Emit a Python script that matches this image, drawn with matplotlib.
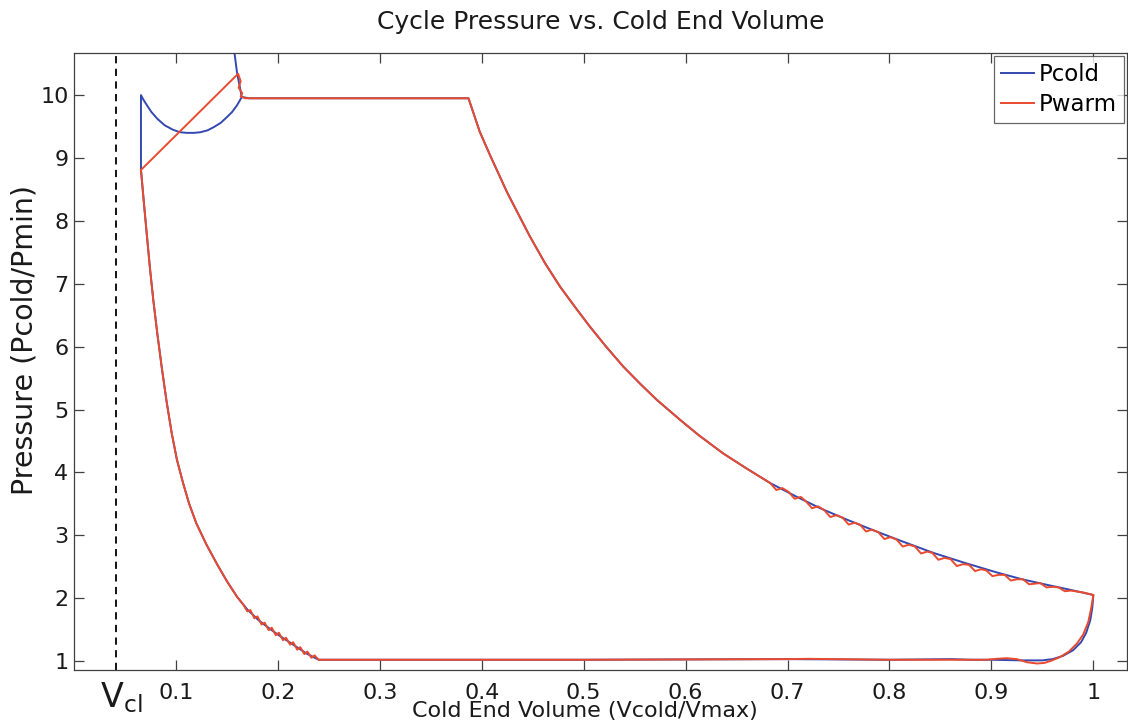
import numpy as np
import matplotlib
matplotlib.use("Agg")
import matplotlib.pyplot as plt

plt.rcParams['font.family'] = ['DejaVu Sans']
plt.rcParams['mathtext.fontset'] = 'dejavusans'

# ---- data: cold end volume (V/Vmax) and pressure (P/Pmin) ----
v_clearance = 0.041

# Pcold spike at the end of the displacement
pcold_spike_v = [0.156, 0.160, 0.1646]
pcold_spike_p = [10.85, 10.35, 9.97]

# constant-pressure intake plateau
plateau_v = [0.1646, 0.172, 0.387]
plateau_p = [9.97, 9.95, 9.95]

# expansion stroke
expansion_v = [0.387, 0.398, 0.408, 0.425, 0.447, 0.462, 0.477, 0.492, 0.506,
               0.522, 0.539, 0.556, 0.572, 0.595, 0.613, 0.637, 0.660, 0.683,
               0.708, 0.732, 0.758, 0.784, 0.813, 0.843, 0.874, 0.905, 0.930,
               0.955, 0.978, 1.0]
expansion_p = [9.95, 9.42, 9.05, 8.45, 7.76, 7.33, 6.95, 6.62, 6.32,
               6.00, 5.68, 5.40, 5.15, 4.83, 4.59, 4.30, 4.06, 3.83,
               3.62, 3.43, 3.25, 3.08, 2.90, 2.72, 2.56, 2.41, 2.30,
               2.21, 2.13, 2.05]

# blowdown at maximum volume (Pcold)
pcold_right_v = [1.0, 0.999, 0.997, 0.993, 0.988, 0.980, 0.970, 0.960, 0.950]
pcold_right_p = [2.05, 1.85, 1.65, 1.45, 1.30, 1.17, 1.08, 1.03, 1.01]

# low-pressure exhaust line (Pcold)
pcold_bottom_v = [0.950, 0.930, 0.900, 0.880, 0.860, 0.800, 0.700, 0.500, 0.300, 0.240]
pcold_bottom_p = [1.01, 1.01, 1.02, 1.02, 1.03, 1.02, 1.03, 1.02, 1.02, 1.02]

# compression stroke
compression_v = [0.240, 0.228, 0.215, 0.200, 0.189, 0.181, 0.170, 0.160, 0.150,
                 0.140, 0.130, 0.120, 0.113, 0.107, 0.101, 0.0959, 0.0908,
                 0.086, 0.0818, 0.0778, 0.0745, 0.0713, 0.0685, 0.0657]
compression_p = [1.02, 1.12, 1.26, 1.42, 1.55, 1.65, 1.82, 2.02, 2.27,
                 2.55, 2.85, 3.19, 3.50, 3.83, 4.20, 4.62, 5.13,
                 5.68, 6.20, 6.74, 7.25, 7.80, 8.30, 8.81]

# Pcold jump and arc near minimum volume
pcold_arc_v = [0.0657, 0.0657, 0.0680, 0.0715, 0.0760, 0.0820, 0.0890, 0.0970,
               0.1040, 0.1106, 0.1180, 0.1240, 0.1310, 0.1370, 0.1440, 0.1500,
               0.1550, 0.1600, 0.1646]
pcold_arc_p = [8.81, 10.0, 9.93, 9.84, 9.73, 9.62, 9.52, 9.45,
               9.41, 9.40, 9.40, 9.41, 9.44, 9.49, 9.56, 9.65,
               9.73, 9.84, 9.97]

# Pwarm: straight rise near minimum volume, settling onto the plateau
pwarm_top_v = [0.0657, 0.161, 0.1635, 0.1615, 0.1650, 0.1635, 0.1680]
pwarm_top_p = [8.81, 10.34, 10.22, 10.12, 10.03, 9.98, 9.95]

# Pwarm ripple along the late expansion
pwarm_ripple_v = [0.683, 0.689, 0.695, 0.701, 0.707, 0.713, 0.718, 0.724, 0.730,
                  0.736, 0.742, 0.748, 0.754, 0.760, 0.766, 0.771, 0.777, 0.783,
                  0.789, 0.795, 0.801, 0.807, 0.813, 0.819, 0.825, 0.831, 0.837,
                  0.842, 0.848, 0.854, 0.860, 0.866, 0.872, 0.878, 0.884, 0.890,
                  0.895, 0.901, 0.907, 0.913, 0.919, 0.925, 0.931, 0.937, 0.943,
                  0.948, 0.954, 0.960, 0.966, 0.972, 0.978, 0.990, 1.0]
pwarm_ripple_p = [3.83, 3.72, 3.75, 3.69, 3.58, 3.61, 3.54, 3.43, 3.46,
                  3.40, 3.29, 3.32, 3.28, 3.17, 3.20, 3.17, 3.06, 3.09,
                  3.05, 2.94, 2.97, 2.93, 2.82, 2.85, 2.82, 2.71, 2.74,
                  2.72, 2.61, 2.64, 2.62, 2.51, 2.54, 2.53, 2.43, 2.46,
                  2.44, 2.35, 2.37, 2.37, 2.28, 2.30, 2.30, 2.22, 2.23,
                  2.24, 2.17, 2.18, 2.17, 2.11, 2.12, 2.09, 2.05]

# Pwarm blowdown and exhaust line
pwarm_right_v = [1.0, 0.998, 0.995, 0.990, 0.984, 0.976, 0.967, 0.958, 0.952,
                 0.945, 0.935, 0.925, 0.915, 0.905, 0.895]
pwarm_right_p = [2.05, 1.85, 1.62, 1.42, 1.28, 1.15, 1.06, 1.00, 0.97,
                 0.96, 0.98, 1.03, 1.045, 1.035, 1.02]
pwarm_bottom_v = [0.895, 0.800, 0.720, 0.700, 0.500, 0.300, 0.240]
pwarm_bottom_p = [1.02, 1.02, 1.035, 1.03, 1.02, 1.02, 1.02]

# Pwarm sawtooth at the end of compression
pwarm_teeth_v = [0.240, 0.236, 0.233, 0.229, 0.226, 0.222, 0.219, 0.215, 0.212,
                 0.208, 0.205, 0.201, 0.198, 0.194, 0.191, 0.187, 0.184, 0.180,
                 0.177, 0.173, 0.170, 0.166]
pwarm_teeth_p = [1.02, 1.09, 1.05, 1.15, 1.11, 1.22, 1.18, 1.30, 1.26,
                 1.37, 1.33, 1.45, 1.41, 1.53, 1.49, 1.61, 1.58, 1.71,
                 1.68, 1.81, 1.79, 1.90]

x_ticks = [0.1, 0.2, 0.3, 0.4, 0.5, 0.6, 0.7, 0.8, 0.9, 1.0]
x_tick_labels = ['0.1', '0.2', '0.3', '0.4', '0.5', '0.6', '0.7', '0.8', '0.9', '1']
y_ticks = [1, 2, 3, 4, 5, 6, 7, 8, 9, 10]

# ---- assemble the two traces ----
pcold_v = np.concatenate([pcold_spike_v, plateau_v, expansion_v, pcold_right_v,
                          pcold_bottom_v, compression_v, pcold_arc_v])
pcold_p = np.concatenate([pcold_spike_p, plateau_p, expansion_p, pcold_right_p,
                          pcold_bottom_p, compression_p, pcold_arc_p])

exp_v = np.array(expansion_v)
exp_p = np.array(expansion_p)
early = exp_v < 0.683
comp_v = np.array(compression_v)
comp_p = np.array(compression_p)
upper = comp_v <= 0.160

pwarm_v = np.concatenate([pwarm_top_v, plateau_v[1:], exp_v[early], pwarm_ripple_v,
                          pwarm_right_v, pwarm_bottom_v, pwarm_teeth_v, comp_v[upper]])
pwarm_p = np.concatenate([pwarm_top_p, plateau_p[1:], exp_p[early], pwarm_ripple_p,
                          pwarm_right_p, pwarm_bottom_p, pwarm_teeth_p, comp_p[upper]])

# ---- figure ----
fig = plt.figure(figsize=(11.28, 7.27), dpi=100)
ax = fig.add_axes([0.0656, 0.0784, 0.9335, 0.8487])

blue = '#3348b0'
red = '#ea4a2e'
text_color = '#1a1a1a'
ax.plot(pcold_v, pcold_p, color=blue, lw=1.4, label='Pcold', solid_joinstyle='round')
ax.plot(pwarm_v, pwarm_p, color=red, lw=1.4, label='Pwarm', solid_joinstyle='round')

ax.axvline(v_clearance, color='black', lw=1.3, dashes=(4, 3))

ax.set_xlim(0.0, 1.033)
ax.set_ylim(0.857, 10.67)
ax.set_xticks(x_ticks)
ax.set_xticklabels(x_tick_labels)
ax.set_yticks(y_ticks)

for s in ax.spines.values():
    s.set_color('#404040')
    s.set_linewidth(0.9)
ax.tick_params(direction='in', length=7, width=0.9, color='#404040',
               top=True, right=True, labelsize=16, labelcolor=text_color)
ax.tick_params(axis='x', pad=9)
ax.tick_params(axis='y', pad=4)

ax.set_title('Cycle Pressure vs. Cold End Volume', fontsize=18, pad=17, color=text_color)
ax.set_xlabel('Cold End Volume (Vcold/Vmax)', fontsize=16, color=text_color)
ax.xaxis.set_label_coords(0.485, -0.050)
ax.set_ylabel('Pressure (Pcold/Pmin)', fontsize=20.5, color=text_color)
ax.yaxis.set_label_coords(-0.034, 0.535)

ax.text(v_clearance + 0.005, -0.016, r'$\mathregular{V_{cl}}$', transform=ax.get_xaxis_transform(),
        ha='center', va='top', fontsize=24, color=text_color)

leg = ax.legend(loc='upper right', fontsize=16.5, frameon=True, fancybox=False,
                handlelength=1.45, handletextpad=0.2, borderpad=0.3,
                labelspacing=0.3, borderaxespad=0.15)
leg.get_frame().set_edgecolor('#404040')
leg.get_frame().set_linewidth(0.9)

fig.savefig('out.png', dpi=100)
